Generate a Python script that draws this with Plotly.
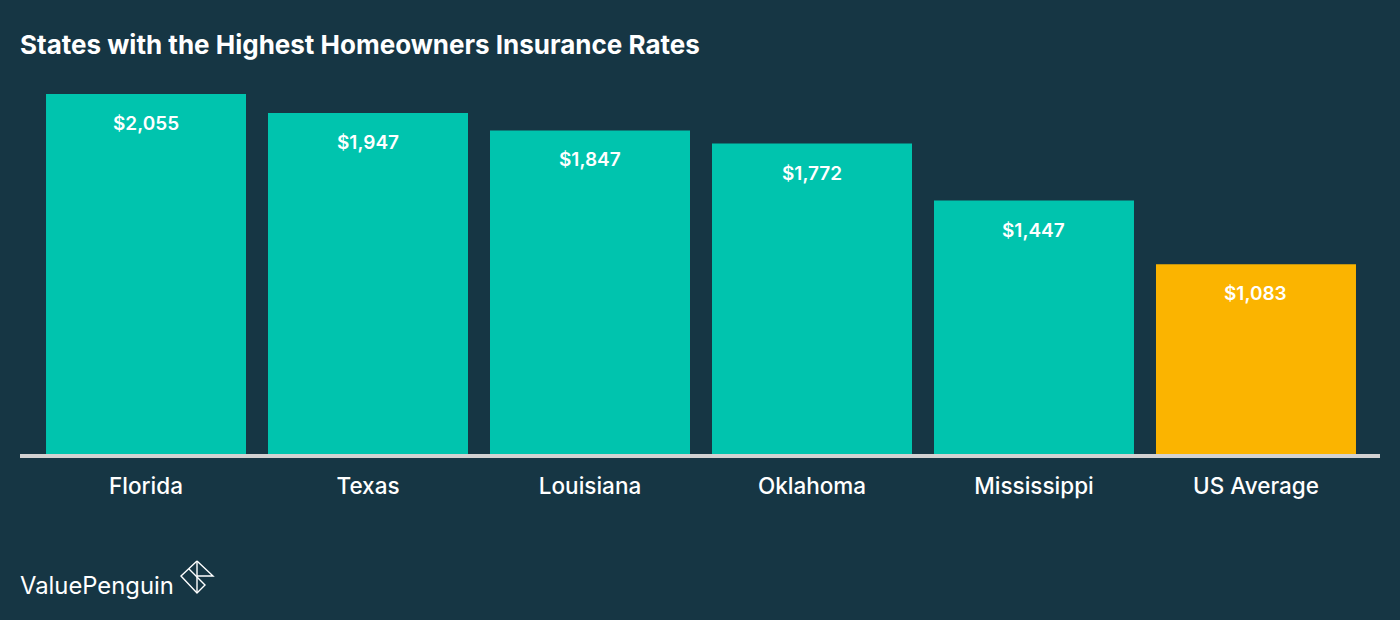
import plotly.graph_objects as go

categories = ["Florida", "Texas", "Louisiana", "Oklahoma", "Mississippi", "US Average"]
rates = [2055, 1947, 1847, 1772, 1447, 1083]
value_labels = ["$2,055", "$1,947", "$1,847", "$1,772", "$1,447", "$1,083"]
bar_colors = ["#00C4AE"] * 5 + ["#FBB400"]

BG = "#163644"
W, H = 1400, 620
L, R, T, B = 20, 1380, 80, 454
FONT = "Inter"

def px(x): return (x - L) / (R - L)
def py(y): return 1 - (y - T) / (B - T)

fig = go.Figure(go.Bar(
    x=categories, y=rates, marker=dict(color=bar_colors, line_width=0),
    width=200/222, hoverinfo="skip",
))

# logo outline drawn in paper coordinates
def seg(pts, w=1.4):
    d = "M " + " L ".join(f"{px(x):.5f},{py(y):.5f}" for x, y in pts)
    return dict(type="path", xref="paper", yref="paper", path=d,
                line=dict(color="white", width=w))

shapes = [
    seg([(197, 561), (213, 576), (197, 576)]),
    seg([(197, 561), (181, 576), (197, 593), (205, 585), (188.5, 568.5)]),
    seg([(197, 561), (197, 593)]),
]

annotations = [
    dict(text="States with the Highest Homeowners Insurance Rates", xref="paper", yref="paper",
         x=px(20), y=py(44), xanchor="left", yanchor="middle", showarrow=False, xshift=-2,
         font=dict(family=FONT, size=26, color="white", weight=700)),
    dict(text="ValuePenguin", xref="paper", yref="paper",
         x=px(20), y=py(585), xanchor="left", yanchor="middle", showarrow=False, xshift=-2,
         font=dict(family=FONT, size=23.8, color="white", weight=400)),
]
for c, v, t in zip(categories, rates, value_labels):
    annotations.append(dict(x=c, y=v, text=t, xref="x", yref="y", showarrow=False,
                            yanchor="top", yshift=-16,
                            font=dict(family=FONT, size=19, color="white", weight=600)))

fig.update_layout(
    width=W, height=H, autosize=False,
    paper_bgcolor=BG, plot_bgcolor=BG, showlegend=False,
    margin=dict(l=L, r=W-R, t=T, b=H-B, pad=0),
    font=dict(family=FONT, color="white"),
    xaxis=dict(type="category", range=[-0.5676, 5.5586], showgrid=False, ticks="",
               showline=True, linecolor="#D2D2D2", linewidth=4, zeroline=False,
               tickfont=dict(family=FONT, size=22.5, color="white", weight=500), ticklabelstandoff=9,
               categoryorder="array", categoryarray=categories),
    yaxis=dict(range=[0, 374/0.17518], visible=False, fixedrange=True),
    shapes=shapes,
    annotations=annotations,
)
fig.write_html("out.html", config={"displayModeBar": False},
               post_script="document.body.style.margin='0';document.body.style.background='#163644';")
